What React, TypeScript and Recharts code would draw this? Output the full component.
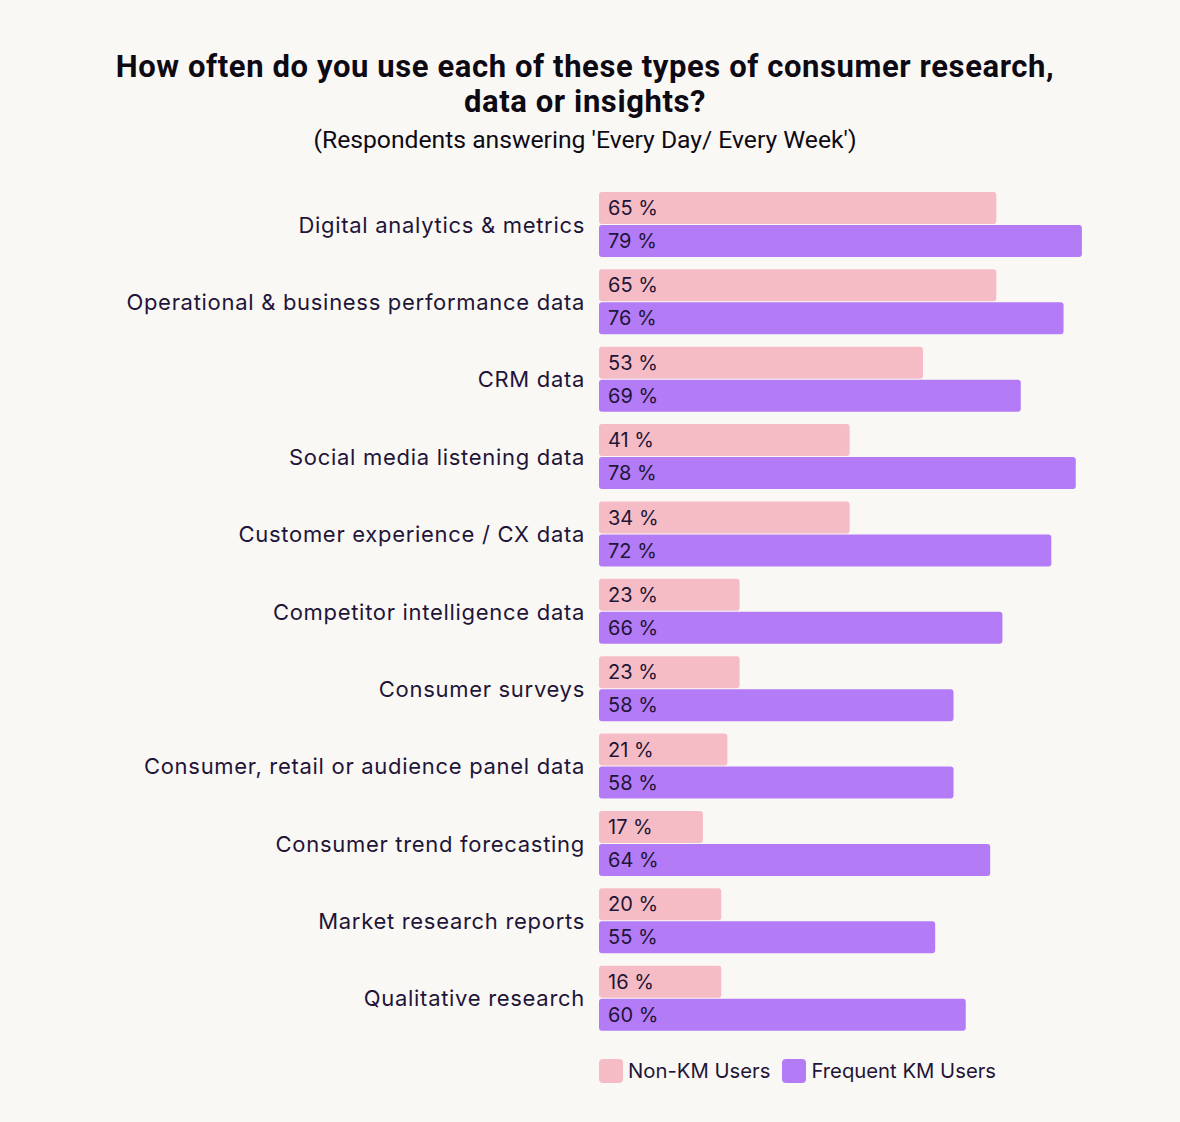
import { Bar, BarChart, LabelList, XAxis, YAxis } from 'recharts';

// categories, top to bottom
const categories = [
  'Digital analytics & metrics',
  'Operational & business performance data',
  'CRM data',
  'Social media listening data',
  'Customer experience / CX data',
  'Competitor intelligence data',
  'Consumer surveys',
  'Consumer, retail or audience panel data',
  'Consumer trend forecasting',
  'Market research reports',
  'Qualitative research'
];

// bar lengths as drawn in the source picture (%)
const nonKmBars = [65, 65, 53, 41, 41, 23, 23, 21, 17, 20, 20];
const frequentKmBars = [79, 76, 69, 78, 74, 66, 58, 58, 64, 55, 60];

// value labels printed on the bars
const nonKmLabels = [65, 65, 53, 41, 34, 23, 23, 21, 17, 20, 16];
const frequentKmLabels = [79, 76, 69, 78, 72, 66, 58, 58, 64, 55, 60];

const seriesNames = ['Non-KM Users', 'Frequent KM Users'];
const seriesColors = ['#f5bcc5', '#b37bf5'];

const data = categories.map((name, i) => ({
  name,
  nonKm: nonKmBars[i],
  frequentKm: frequentKmBars[i],
  nonKmLabel: `${nonKmLabels[i]} %`,
  frequentKmLabel: `${frequentKmLabels[i]} %`
}));

const ink = '#1f1538';
const bodyFont = 'Inter, "Noto Sans", sans-serif';

function CategoryTick(props: any) {
  const { x, y, payload } = props;
  return (
    <text
      x={x}
      y={y}
      dy={8}
      textAnchor="end"
      fill={ink}
      fontSize={22}
      letterSpacing={0.7}
      fontFamily={bodyFont}
    >
      {payload.value}
    </text>
  );
}

export default function App() {
  return (
    <div
      style={{
        position: 'fixed',
        left: 0,
        top: 0,
        width: 1180,
        height: 1122,
        background: '#faf8f5'
      }}
    >
      <div
        style={{
          position: 'absolute',
          top: 49,
          left: 0,
          width: 1170,
          textAlign: 'center',
          fontFamily: 'Roboto, sans-serif',
          color: '#0d0a14'
        }}
      >
        <div style={{ fontSize: 31, fontWeight: 700, lineHeight: '35px', letterSpacing: 0.6 }}>
          How often do you use each of these types of consumer research,
          <br />
          data or insights?
        </div>
        <div style={{ fontSize: 24.7, lineHeight: '30px', marginTop: 6 }}>
          (Respondents answering 'Every Day/ Every Week')
        </div>
      </div>

      <div style={{ position: 'absolute', left: 0, top: 0 }}>
        <BarChart
          width={1180}
          height={1122}
          data={data}
          layout="vertical"
          margin={{ top: 186, right: 92, bottom: 85, left: 0 }}
          barSize={32}
          barGap={1}
          barCategoryGap={0}
        >
          <XAxis type="number" domain={[0, 80]} hide />
          <YAxis
            type="category"
            dataKey="name"
            width={599}
            axisLine={false}
            tickLine={false}
            tickMargin={8}
            interval={0}
            tick={<CategoryTick />}
          />
          <Bar
            dataKey="nonKm"
            name={seriesNames[0]}
            fill={seriesColors[0]}
            radius={3}
            isAnimationActive={false}
          >
            <LabelList
              dataKey="nonKmLabel"
              position="insideLeft"
              offset={9}
              fill={ink}
              fontSize={20}
              fontFamily={bodyFont}
            />
          </Bar>
          <Bar
            dataKey="frequentKm"
            name={seriesNames[1]}
            fill={seriesColors[1]}
            radius={3}
            isAnimationActive={false}
          >
            <LabelList
              dataKey="frequentKmLabel"
              position="insideLeft"
              offset={9}
              fill={ink}
              fontSize={20}
              fontFamily={bodyFont}
            />
          </Bar>
        </BarChart>
      </div>

      <div
        style={{
          position: 'absolute',
          top: 1058,
          left: 599,
          display: 'flex',
          alignItems: 'center',
          fontFamily: bodyFont,
          fontSize: 20.3,
          color: ink
        }}
      >
        {seriesNames.map((s, i) => (
          <div key={s} style={{ display: 'flex', alignItems: 'center', marginRight: 12 }}>
            <span
              style={{
                display: 'inline-block',
                width: 24,
                height: 24,
                borderRadius: 4,
                background: seriesColors[i],
                marginRight: 5
              }}
            />
            {s}
          </div>
        ))}
      </div>
    </div>
  );
}
